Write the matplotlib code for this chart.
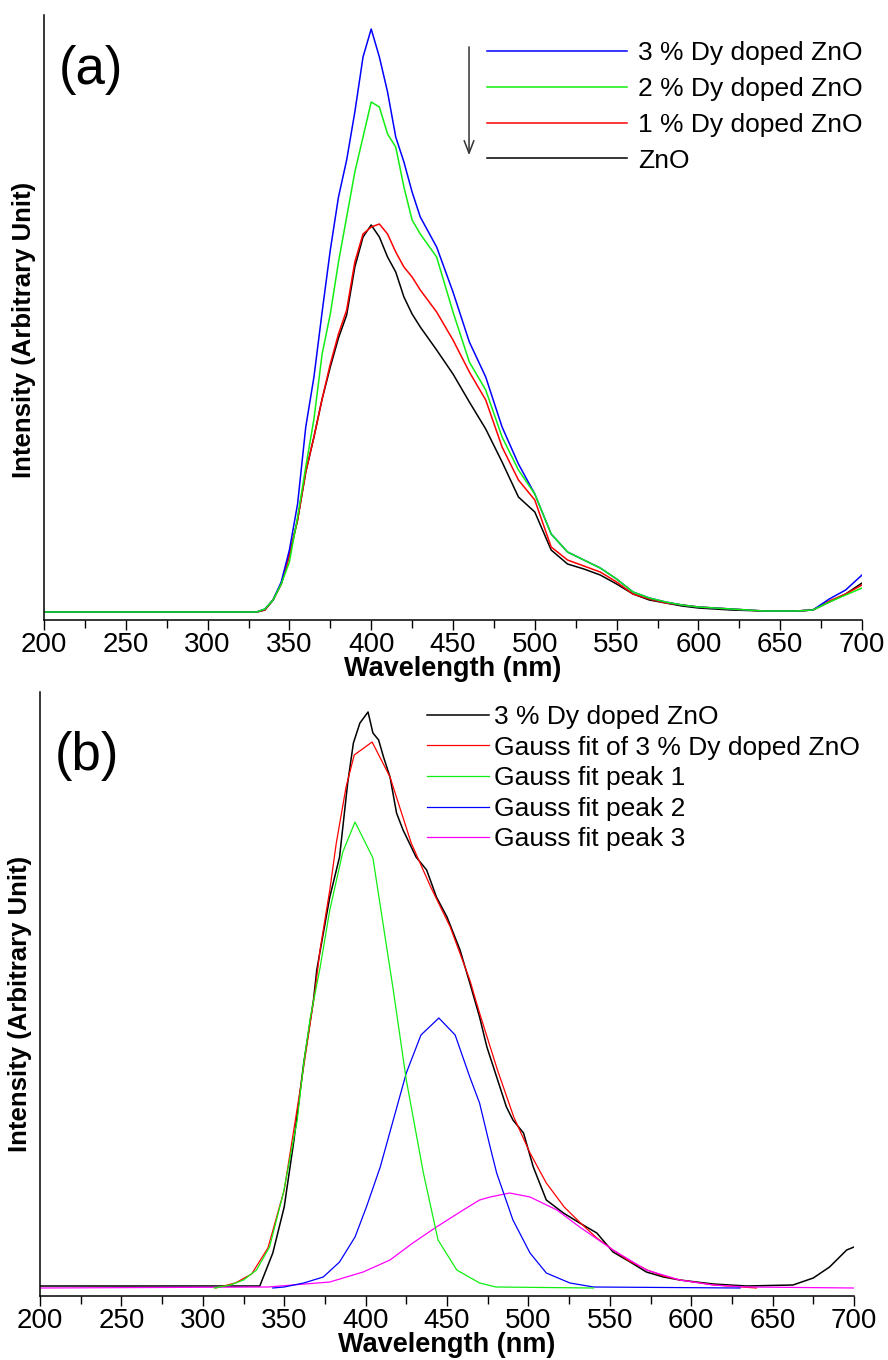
import matplotlib
matplotlib.use('Agg')
import matplotlib.pyplot as plt
from matplotlib.ticker import MultipleLocator

plt.rcParams['font.family'] = ['Liberation Sans', 'DejaVu Sans']

# ---- panel (a): PL spectra ----
wl_a = [200, 330, 335, 340, 345, 350, 355, 360, 365, 370, 375, 380, 385, 390, 395,
        400, 405, 410, 415, 420, 425, 430, 440, 450, 460, 470, 480, 490, 500, 510,
        520, 530, 540, 550, 560, 570, 580, 590, 600, 620, 640, 660, 670, 680, 690, 700]
dy3 = [0, 0, 3, 12, 30, 62, 108, 185, 235, 300, 362, 415, 452, 500, 555,
       583, 555, 520, 475, 450, 420, 395, 365, 320, 270, 235, 185, 148, 118, 78,
       60, 52, 44, 33, 20, 14, 10, 7, 5, 3, 1, 1, 2, 13, 22, 37]
dy2 = [0, 0, 3, 12, 28, 50, 95, 145, 193, 258, 298, 350, 395, 440, 475,
       510, 505, 478, 465, 425, 392, 378, 355, 300, 250, 222, 175, 142, 118, 78,
       60, 52, 44, 33, 20, 14, 10, 7, 5, 3, 1, 1, 2, 10, 17, 24]
dy1 = [0, 0, 2, 12, 28, 57, 92, 140, 175, 213, 248, 278, 302, 350, 378,
       385, 388, 378, 360, 345, 335, 322, 300, 272, 240, 212, 165, 132, 112, 65,
       52, 46, 40, 30, 18, 13, 9, 7, 5, 3, 1, 1, 2, 11, 18, 27]
zno = [0, 0, 2, 12, 28, 57, 92, 140, 175, 213, 245, 274, 297, 345, 375,
       387, 375, 355, 340, 315, 298, 285, 262, 238, 210, 183, 150, 115, 100, 62,
       48, 43, 37, 28, 18, 12, 9, 6, 4, 2, 1, 1, 2, 10, 18, 29]
labels_a = ['3 % Dy doped ZnO', '2 % Dy doped ZnO', '1 % Dy doped ZnO', 'ZnO']

# ---- panel (b): 3 % Dy doped ZnO and its Gauss fit ----
wl_meas = [200, 335, 343, 350, 356, 362, 368, 370, 378, 384, 389, 392.5, 396.5, 401.5,
           404.5, 408, 411, 415, 419, 423, 431, 437.5, 443.5, 450, 458, 464, 470, 474.5,
           480.5, 486.5, 490.5, 497, 503, 511, 521.5, 531.5, 542, 552, 562.5, 572.5,
           583, 593, 613.5, 634, 662.5, 675, 685, 695.5, 700]
meas = [2, 2, 35, 81, 148, 225, 288, 318, 391, 431, 505, 545, 565, 576,
        555, 548, 531, 511, 475, 458, 431, 418, 391, 371, 338, 305, 271, 241,
        211, 181, 168, 155, 121, 88, 75, 65, 55, 36, 26, 16,
        11, 8, 4, 2, 3, 10, 21, 38, 41]

wl_fit = [308, 320, 330, 340, 350, 360, 369, 372, 378, 382, 388, 393, 404, 415, 428,
          440, 452, 464, 470, 481, 491, 501, 511, 522, 532, 542, 552, 562, 573, 583,
          593, 614, 640]
fit = [0, 5, 14, 40, 98, 200, 298, 338, 398, 445, 501, 533, 546, 511, 445,
       401, 361, 308, 275, 218, 171, 135, 105, 81, 65, 50, 38, 27, 18, 12,
       8, 3, 0]

wl_p1 = [307, 317, 325, 333, 341, 349.5, 358, 362, 366, 372, 378, 386, 393.5, 404.5,
         417, 425, 435.5, 444.5, 456, 470, 480, 540]
peak1 = [0, 3, 8, 18, 41, 95, 168, 225, 270, 320, 378, 436, 466, 430,
         298, 208, 115, 48, 18, 5, 1, 0]

wl_p2 = [343, 350, 362, 374, 384, 393.5, 400.5, 409, 417, 425, 434, 445, 455, 464,
         470, 476.5, 480.5, 490.5, 501, 511, 525.5, 540, 630]
peak2 = [0, 1, 5, 11, 26, 51, 81, 121, 168, 215, 253, 270, 253, 211,
         185, 141, 115, 68, 35, 15, 5, 1, 0]

wl_p3 = [200, 340, 378, 398.5, 415, 429, 443.5, 460, 470, 476.5, 488.5, 501, 517.5,
         531.5, 552, 572.5, 593, 613.5, 634, 700]
peak3 = [0, 1, 6, 16, 28, 45, 61, 78, 88, 91, 95, 91, 78,
         61, 38, 18, 8, 3, 1, 0]

labels_b = ['3 % Dy doped ZnO', 'Gauss fit of 3 % Dy doped ZnO',
            'Gauss fit peak 1', 'Gauss fit peak 2', 'Gauss fit peak 3']

GREEN = '#11ee11'
W, H = 888, 1360


def style(ax, ylim):
    ax.set_xlim(200, 700)
    ax.set_ylim(*ylim)
    ax.spines['top'].set_visible(False)
    ax.spines['right'].set_visible(False)
    ax.spines['left'].set_linewidth(1.1)
    ax.spines['bottom'].set_linewidth(1.1)
    ax.set_yticks([])
    ax.xaxis.set_major_locator(MultipleLocator(50))
    ax.xaxis.set_minor_locator(MultipleLocator(25))
    ax.tick_params(axis='x', which='major', length=7, width=1, pad=1.5, labelsize=20)
    ax.tick_params(axis='x', which='minor', length=6, width=1)
    ax.set_xlabel('Wavelength (nm)', fontsize=19.5, fontweight='bold', labelpad=-1)
    ax.set_ylabel('Intensity (Arbitrary Unit)', fontsize=18.5, fontweight='bold')


fig = plt.figure(figsize=(W / 100, H / 100), dpi=100)

# (a)
ax1 = fig.add_axes([44 / W, 1 - 620 / H, 818 / W, 605 / H])
l_zno, = ax1.plot(wl_a, zno, color='black', lw=1.1)
l_1, = ax1.plot(wl_a, dy1, color='red', lw=1.1)
l_3, = ax1.plot(wl_a, dy3, color='blue', lw=1.1)
l_2, = ax1.plot(wl_a, dy2, color=GREEN, lw=1.1)
style(ax1, (-8, 597))
ax1.yaxis.set_label_coords(-0.01, 0.48)
ax1.text(0.0575, 0.909, '(a)', transform=ax1.transAxes, fontsize=38,
         ha='center', va='center')
ax1.legend([l_3, l_2, l_1, l_zno], labels_a,
           loc='upper left', bbox_to_anchor=(487 / W, 1 - 41 / H),
           bbox_transform=fig.transFigure, frameon=False, fontsize=19,
           handlelength=5.3, handletextpad=0.42, labelspacing=0.45,
           borderpad=0, borderaxespad=0)
ax1.annotate('', xy=(0.5196, 0.7636), xytext=(0.5196, 0.952),
             xycoords='axes fraction',
             arrowprops=dict(arrowstyle='->,head_length=0.9,head_width=0.35',
                             color='#333333', lw=1.1))

# (b)
ax2 = fig.add_axes([40 / W, 1 - 1296 / H, 814 / W, 604 / H])
h_meas, = ax2.plot(wl_meas, meas, color='black', lw=1.1)
h_fit, = ax2.plot(wl_fit, fit, color='red', lw=0.9)
h_p3, = ax2.plot(wl_p3, peak3, color='#ff00ff', lw=0.9)
h_p2, = ax2.plot(wl_p2, peak2, color='blue', lw=0.9)
h_p1, = ax2.plot(wl_p1, peak1, color=GREEN, lw=0.9)
style(ax2, (-8, 596))
ax2.yaxis.set_label_coords(-0.01, 0.483)
ax2.text(0.0577, 0.894, '(b)', transform=ax2.transAxes, fontsize=38,
         ha='center', va='center')
ax2.legend([h_meas, h_fit, h_p1, h_p2, h_p3], labels_b,
           loc='upper left', bbox_to_anchor=(427 / W, 1 - 705 / H),
           bbox_transform=fig.transFigure, frameon=False, fontsize=19,
           handlelength=2.35, handletextpad=0.2, labelspacing=0.25,
           borderpad=0, borderaxespad=0)

fig.savefig('out.png', dpi=100)
